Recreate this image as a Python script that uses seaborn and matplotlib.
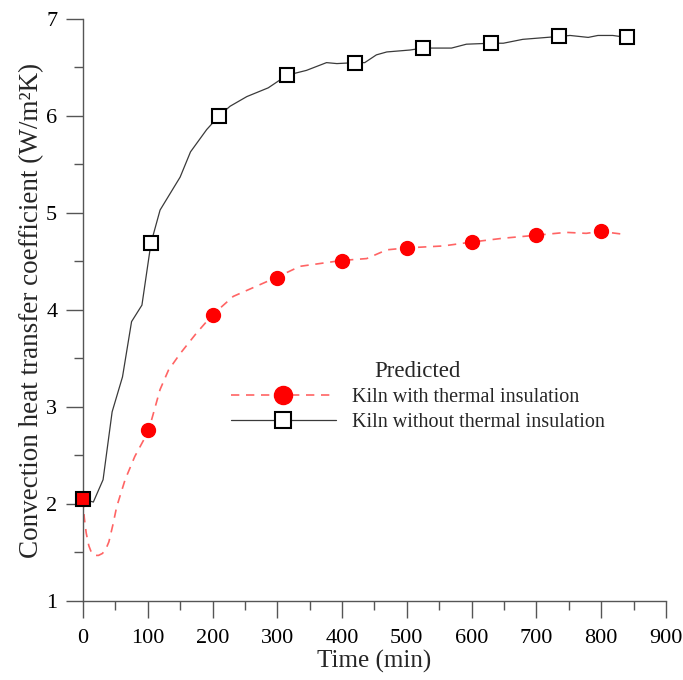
import matplotlib
matplotlib.use("Agg")
import matplotlib.pyplot as plt
from matplotlib.lines import Line2D
from matplotlib.ticker import MultipleLocator
import seaborn as sns
import pandas as pd

sns.set_theme(style="ticks")
plt.rcParams['font.family'] = ['Liberation Serif', 'DejaVu Serif']

# curve without insulation (solid black)
t_without = [0, 16, 31, 45, 61, 75, 91, 105, 119, 150, 166, 191, 210, 227, 253, 286,
             315, 345, 376, 392, 420, 435, 453, 469, 505, 525, 569, 592, 630, 649,
             679, 735, 752, 780, 795, 818, 839]
h_without = [2.05, 2.02, 2.25, 2.95, 3.31, 3.88, 4.05, 4.69, 5.03, 5.37, 5.63, 5.86,
             6.00, 6.10, 6.20, 6.29, 6.42, 6.47, 6.55, 6.54, 6.55, 6.55, 6.63, 6.66,
             6.68, 6.70, 6.70, 6.74, 6.75, 6.75, 6.79, 6.82, 6.83, 6.81, 6.83, 6.83, 6.81]
mk_t_without = [105, 210, 315, 420, 525, 630, 735, 840]
mk_h_without = [4.69, 6.00, 6.42, 6.55, 6.70, 6.75, 6.82, 6.81]

# curve with insulation (dashed red)
t_with = [0, 2, 5, 9, 13, 18, 24, 30, 35, 40, 46, 52, 65, 80, 101, 119, 132, 150,
          175, 200, 232, 300, 335, 399, 438, 469, 500, 556, 600, 649, 699, 746, 777,
          799, 835]
h_with = [2.05, 1.86, 1.70, 1.57, 1.50, 1.47, 1.47, 1.49, 1.53, 1.61, 1.78, 1.97,
          2.25, 2.49, 2.75, 3.18, 3.38, 3.55, 3.76, 3.95, 4.14, 4.34, 4.45, 4.51,
          4.53, 4.62, 4.64, 4.66, 4.70, 4.74, 4.77, 4.80, 4.79, 4.81, 4.78]
mk_t_with = [100, 200, 300, 400, 500, 600, 700, 800]
mk_h_with = [2.76, 3.95, 4.33, 4.51, 4.64, 4.70, 4.77, 4.81]

start_t = [0]
start_h = [2.05]

red = "#ff0000"
red_line = "#ff6464"
dark = "#3a3a3a"

fig = plt.figure(figsize=(6.83, 6.80), dpi=100)
ax = fig.add_axes([0.1215, 0.1162, 0.8535, 0.8559])

df_w = pd.DataFrame({"t": t_with, "h": h_with})
df_wo = pd.DataFrame({"t": t_without, "h": h_without})

sns.lineplot(data=df_w, x="t", y="h", sort=False, color=red_line, lw=1.2,
             ax=ax, linestyle=(0, (5, 4)))
sns.lineplot(data=df_wo, x="t", y="h", sort=False, color=dark, lw=0.9, ax=ax)

ax.plot(mk_t_with, mk_h_with, ls="none", marker="o", ms=10, mfc=red, mec=red)
ax.plot(mk_t_without, mk_h_without, ls="none", marker="s", ms=10, mfc="white",
        mec="black", mew=1.5)
ax.plot(start_t, start_h, ls="none", marker="s", ms=10, mfc=red, mec="black",
        mew=1.5, clip_on=False, zorder=5)

ax.set_xlim(0, 900)
ax.set_ylim(1, 7)
ax.xaxis.set_major_locator(MultipleLocator(100))
ax.xaxis.set_minor_locator(MultipleLocator(50))
ax.yaxis.set_major_locator(MultipleLocator(1))
ax.yaxis.set_minor_locator(MultipleLocator(0.5))
ax.tick_params(which="major", length=12.5, width=1, color="#555555",
               labelsize=16, labelcolor="black")
ax.tick_params(which="minor", length=6.5, width=1, color="#555555")
ax.tick_params(axis="y", which="major", pad=6)
ax.tick_params(axis="x", which="major", pad=8)
sns.despine(ax=ax)
for s in ["left", "bottom"]:
    ax.spines[s].set_color("#555555")
    ax.spines[s].set_linewidth(1)

ax.set_xlabel("Time (min)", fontsize=18, labelpad=1)
ax.set_ylabel("Convection heat transfer coefficient (W/m²K)", fontsize=19.5,
              labelpad=1.5)

handles = [
    Line2D([], [], color=red_line, lw=1.2, linestyle=(0, (5, 4)), marker="o",
           ms=13, mfc=red, mec=red),
    Line2D([], [], color=dark, lw=0.9, marker="s", ms=11, mfc="white",
           mec="black", mew=1.5),
]
leg = ax.legend(handles, ["Kiln with thermal insulation", "Kiln without thermal insulation"],
                title="Predicted", frameon=False, fontsize=14.5, title_fontsize=16.5,
                handlelength=5.2, handletextpad=0.8, labelspacing=0.3,
                loc="upper left", bbox_to_anchor=(0.223, 0.444))

fig.savefig("out.png", dpi=100)
